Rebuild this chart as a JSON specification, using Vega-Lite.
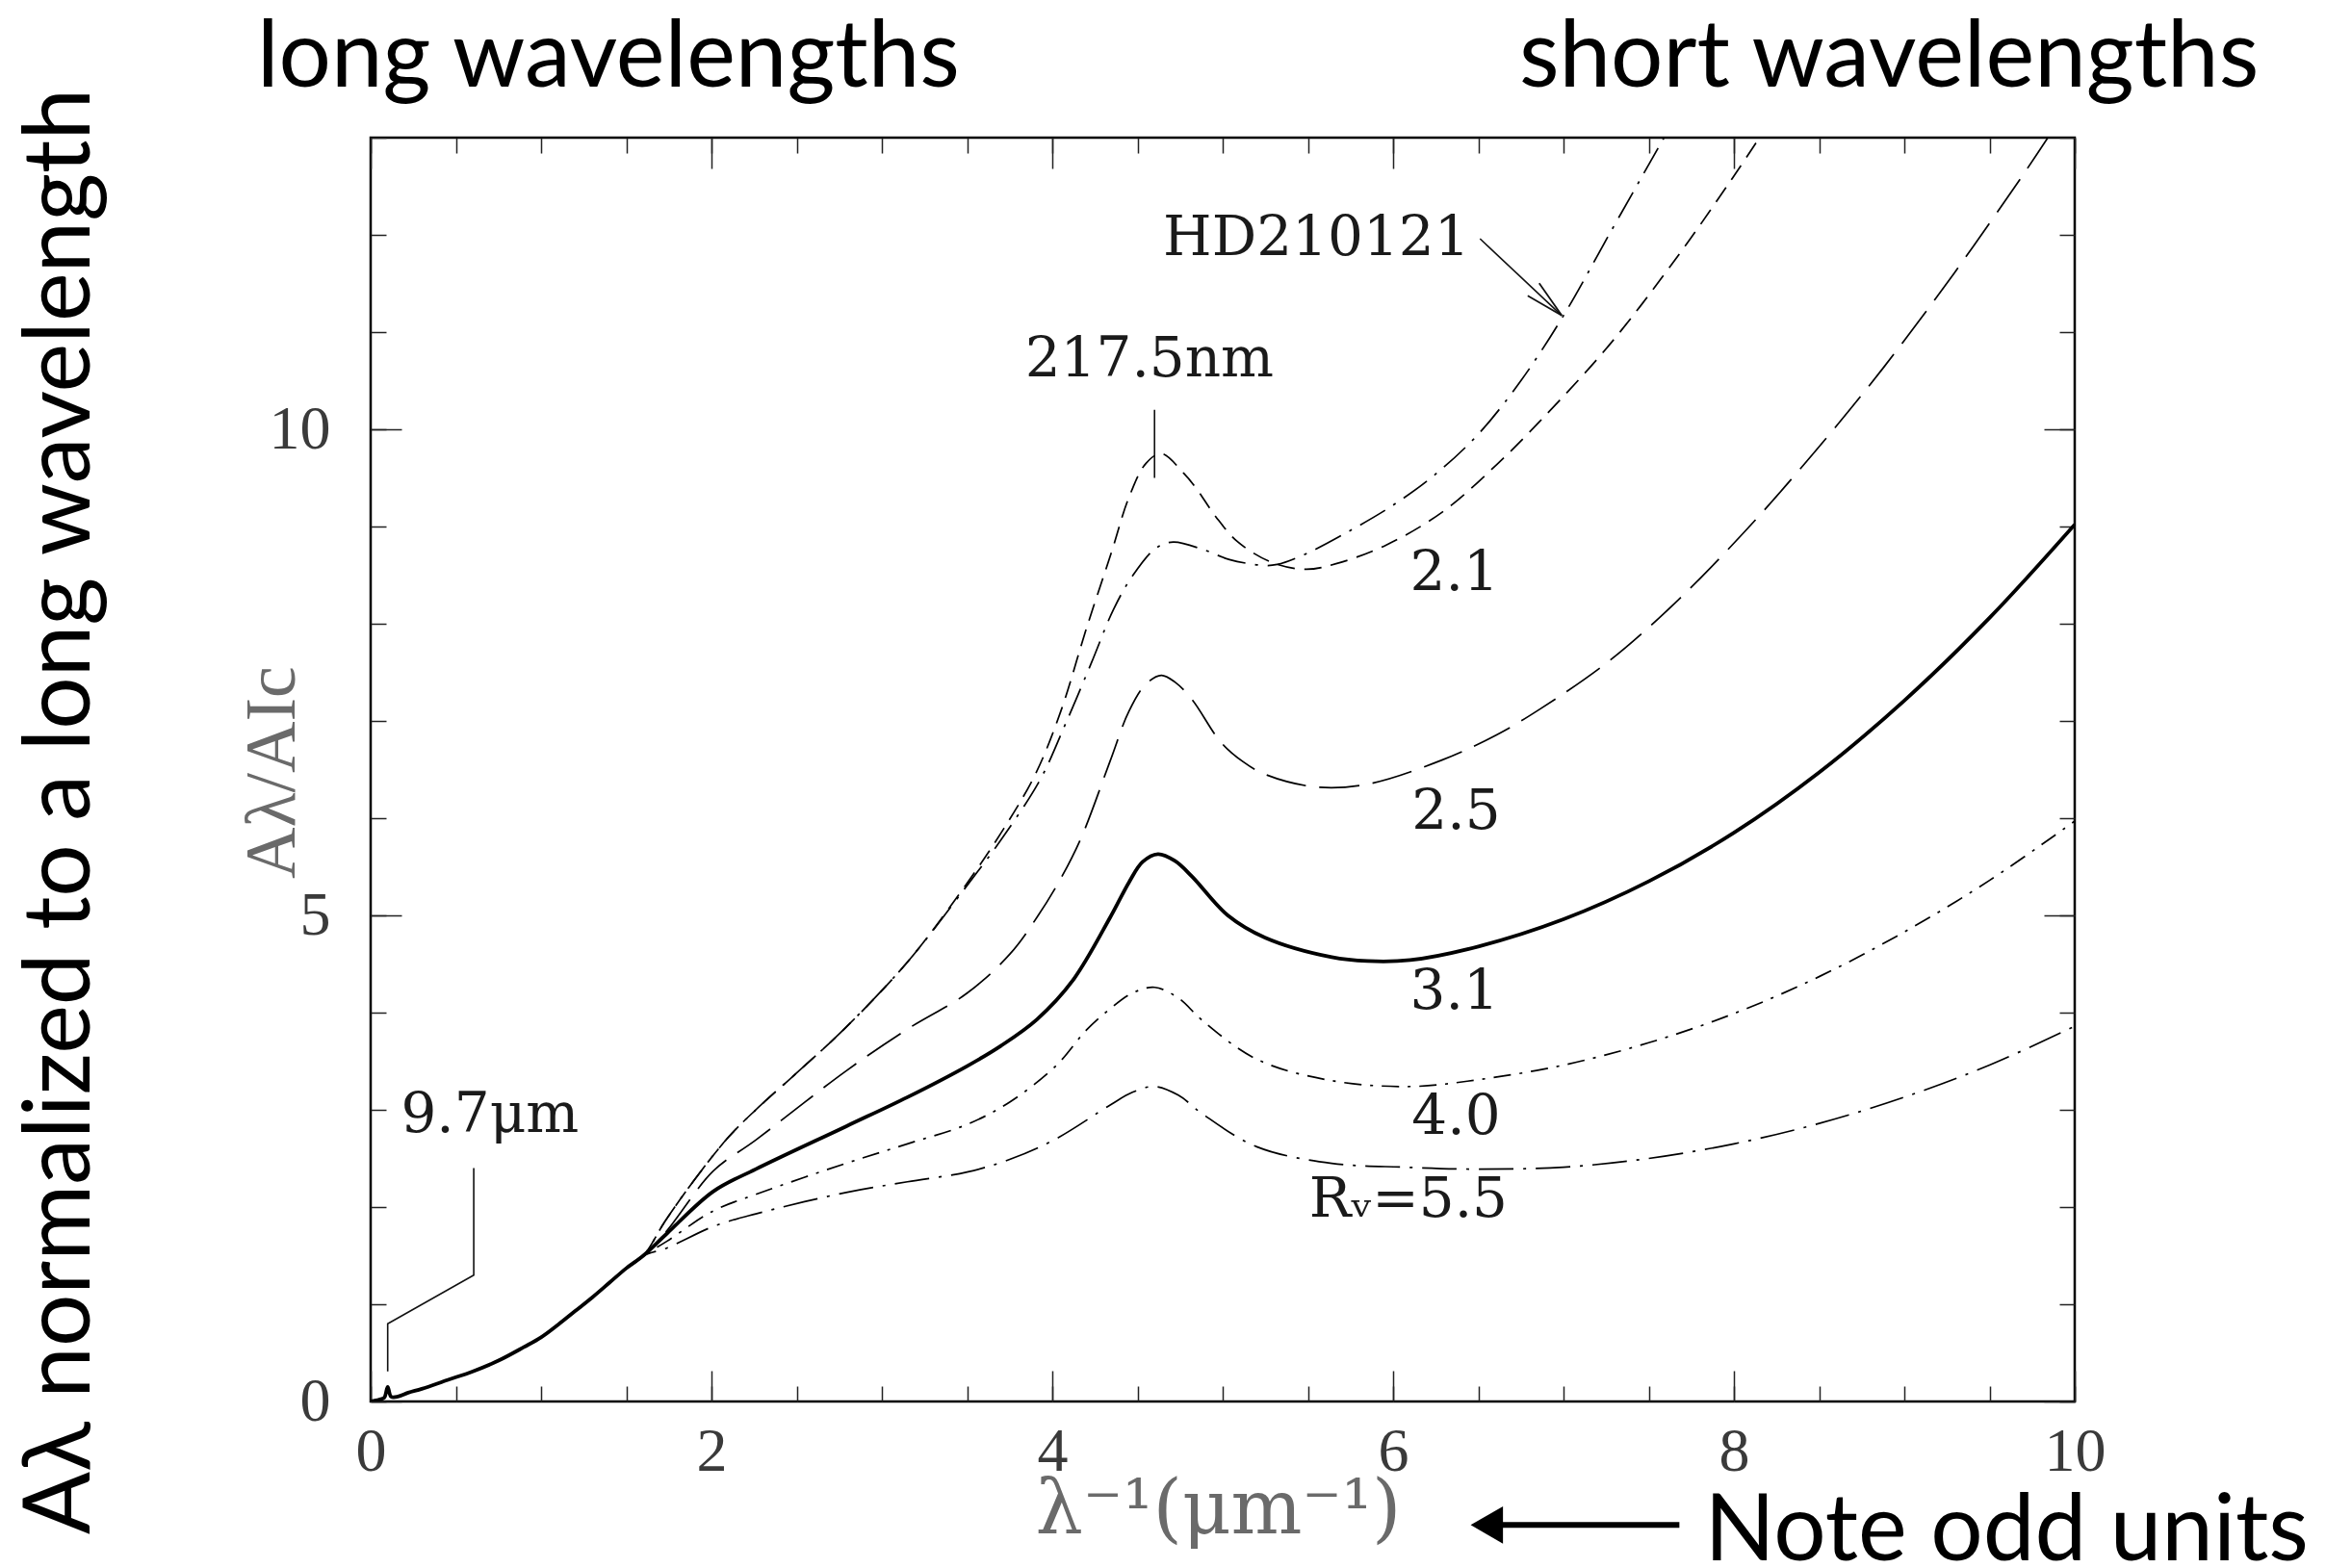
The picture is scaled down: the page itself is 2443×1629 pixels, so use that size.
{
  "$schema": "https://vega.github.io/schema/vega-lite/v6.json",
  "autosize": {"type": "none"},
  "width": 1770,
  "height": 1313,
  "padding": {"left": 385, "top": 143, "right": 288, "bottom": 173},
  "background": "white",
  "config": {
    "view": {"stroke": "#000", "strokeWidth": 2.5},
    "axis": {"domain": false, "grid": false, "labelFlush": false, "labelOverlap": false, "tickColor": "#222", "tickWidth": 1.5}
  },
  "datasets": {
    "curves": [
      {"c": "3.1", "x": 0, "y": 0}, {"c": "3.1", "x": 0.05, "y": 0.02}, {"c": "3.1", "x": 0.08, "y": 0.04}, {"c": "3.1", "x": 0.1, "y": 0.15}, {"c": "3.1", "x": 0.12, "y": 0.05}, {"c": "3.1", "x": 0.16, "y": 0.05}, {"c": "3.1", "x": 0.22, "y": 0.09}, {"c": "3.1", "x": 0.3, "y": 0.13}, {"c": "3.1", "x": 0.45, "y": 0.22}, {"c": "3.1", "x": 0.6, "y": 0.31}, {"c": "3.1", "x": 0.75, "y": 0.42}, {"c": "3.1", "x": 0.9, "y": 0.56}, {"c": "3.1", "x": 1.0, "y": 0.66}, {"c": "3.1", "x": 1.1, "y": 0.79}, {"c": "3.1", "x": 1.2, "y": 0.93}, {"c": "3.1", "x": 1.3, "y": 1.07}, {"c": "3.1", "x": 1.4, "y": 1.22}, {"c": "3.1", "x": 1.5, "y": 1.37}, {"c": "3.1", "x": 1.6, "y": 1.5},
      {"c": "3.1", "x": 1.74, "y": 1.73}, {"c": "3.1", "x": 2.01, "y": 2.16}, {"c": "3.1", "x": 2.26, "y": 2.39}, {"c": "3.1", "x": 2.79, "y": 2.83}, {"c": "3.1", "x": 3.15, "y": 3.13}, {"c": "3.1", "x": 3.5, "y": 3.45}, {"c": "3.1", "x": 3.7, "y": 3.66}, {"c": "3.1", "x": 3.91, "y": 3.93}, {"c": "3.1", "x": 4.12, "y": 4.33}, {"c": "3.1", "x": 4.34, "y": 4.98}, {"c": "3.1", "x": 4.45, "y": 5.34}, {"c": "3.1", "x": 4.53, "y": 5.55}, {"c": "3.1", "x": 4.62, "y": 5.63}, {"c": "3.1", "x": 4.72, "y": 5.56}, {"c": "3.1", "x": 4.82, "y": 5.4}, {"c": "3.1", "x": 5.03, "y": 5.0}, {"c": "3.1", "x": 5.25, "y": 4.77}, {"c": "3.1", "x": 5.64, "y": 4.57}, {"c": "3.1", "x": 5.85, "y": 4.53}, {"c": "3.1", "x": 6.1, "y": 4.54}, {"c": "3.1", "x": 6.5, "y": 4.68}, {"c": "3.1", "x": 7.0, "y": 4.96}, {"c": "3.1", "x": 7.5, "y": 5.35}, {"c": "3.1", "x": 8.0, "y": 5.85}, {"c": "3.1", "x": 8.5, "y": 6.47}, {"c": "3.1", "x": 9.0, "y": 7.21}, {"c": "3.1", "x": 9.5, "y": 8.06}, {"c": "3.1", "x": 10, "y": 9.02},

      {"c": "HD210121", "x": 1.5, "y": 1.37}, {"c": "HD210121", "x": 1.6, "y": 1.5}, {"c": "HD210121", "x": 1.73, "y": 1.86}, {"c": "HD210121", "x": 1.9, "y": 2.28}, {"c": "HD210121", "x": 2.1, "y": 2.72}, {"c": "HD210121", "x": 2.26, "y": 3.0}, {"c": "HD210121", "x": 2.5, "y": 3.38}, {"c": "HD210121", "x": 2.79, "y": 3.85}, {"c": "HD210121", "x": 3.15, "y": 4.52}, {"c": "HD210121", "x": 3.475, "y": 5.25}, {"c": "HD210121", "x": 3.7, "y": 5.78}, {"c": "HD210121", "x": 3.93, "y": 6.4}, {"c": "HD210121", "x": 4.08, "y": 6.98}, {"c": "HD210121", "x": 4.23, "y": 7.6}, {"c": "HD210121", "x": 4.36, "y": 8.15}, {"c": "HD210121", "x": 4.47, "y": 8.49}, {"c": "HD210121", "x": 4.61, "y": 8.78}, {"c": "HD210121", "x": 4.71, "y": 8.84}, {"c": "HD210121", "x": 4.89, "y": 8.76}, {"c": "HD210121", "x": 5.04, "y": 8.66}, {"c": "HD210121", "x": 5.24, "y": 8.6}, {"c": "HD210121", "x": 5.32, "y": 8.61}, {"c": "HD210121", "x": 5.49, "y": 8.72}, {"c": "HD210121", "x": 5.74, "y": 8.95}, {"c": "HD210121", "x": 6.0, "y": 9.22}, {"c": "HD210121", "x": 6.25, "y": 9.54}, {"c": "HD210121", "x": 6.5, "y": 9.95}, {"c": "HD210121", "x": 6.75, "y": 10.5}, {"c": "HD210121", "x": 7.0, "y": 11.17}, {"c": "HD210121", "x": 7.27, "y": 12.01}, {"c": "HD210121", "x": 7.59, "y": 13.0},

      {"c": "2.1", "x": 1.5, "y": 1.37}, {"c": "2.1", "x": 1.6, "y": 1.5}, {"c": "2.1", "x": 1.73, "y": 1.86}, {"c": "2.1", "x": 1.9, "y": 2.28}, {"c": "2.1", "x": 2.1, "y": 2.72}, {"c": "2.1", "x": 2.26, "y": 3.0}, {"c": "2.1", "x": 2.5, "y": 3.38}, {"c": "2.1", "x": 2.79, "y": 3.85}, {"c": "2.1", "x": 3.15, "y": 4.52}, {"c": "2.1", "x": 3.475, "y": 5.27}, {"c": "2.1", "x": 3.7, "y": 5.85}, {"c": "2.1", "x": 3.9, "y": 6.45}, {"c": "2.1", "x": 4.05, "y": 7.1}, {"c": "2.1", "x": 4.2, "y": 7.95}, {"c": "2.1", "x": 4.35, "y": 8.75}, {"c": "2.1", "x": 4.45, "y": 9.3}, {"c": "2.1", "x": 4.55, "y": 9.65}, {"c": "2.1", "x": 4.64, "y": 9.75}, {"c": "2.1", "x": 4.77, "y": 9.55}, {"c": "2.1", "x": 4.85, "y": 9.38}, {"c": "2.1", "x": 4.96, "y": 9.1}, {"c": "2.1", "x": 5.09, "y": 8.84}, {"c": "2.1", "x": 5.29, "y": 8.63}, {"c": "2.1", "x": 5.49, "y": 8.56}, {"c": "2.1", "x": 5.67, "y": 8.62}, {"c": "2.1", "x": 5.96, "y": 8.81}, {"c": "2.1", "x": 6.29, "y": 9.15}, {"c": "2.1", "x": 6.61, "y": 9.64}, {"c": "2.1", "x": 6.86, "y": 10.08}, {"c": "2.1", "x": 7.27, "y": 10.87}, {"c": "2.1", "x": 7.67, "y": 11.78}, {"c": "2.1", "x": 7.99, "y": 12.58}, {"c": "2.1", "x": 8.15, "y": 13.0},

      {"c": "2.5", "x": 1.5, "y": 1.37}, {"c": "2.5", "x": 1.6, "y": 1.5}, {"c": "2.5", "x": 1.74, "y": 1.76}, {"c": "2.5", "x": 2.01, "y": 2.37}, {"c": "2.5", "x": 2.26, "y": 2.69}, {"c": "2.5", "x": 2.79, "y": 3.4}, {"c": "2.5", "x": 3.15, "y": 3.83}, {"c": "2.5", "x": 3.5, "y": 4.2}, {"c": "2.5", "x": 3.75, "y": 4.6}, {"c": "2.5", "x": 3.91, "y": 4.98}, {"c": "2.5", "x": 4.05, "y": 5.38}, {"c": "2.5", "x": 4.17, "y": 5.8}, {"c": "2.5", "x": 4.34, "y": 6.59}, {"c": "2.5", "x": 4.45, "y": 7.1}, {"c": "2.5", "x": 4.55, "y": 7.38}, {"c": "2.5", "x": 4.64, "y": 7.47}, {"c": "2.5", "x": 4.72, "y": 7.4}, {"c": "2.5", "x": 4.82, "y": 7.22}, {"c": "2.5", "x": 4.99, "y": 6.78}, {"c": "2.5", "x": 5.12, "y": 6.58}, {"c": "2.5", "x": 5.25, "y": 6.45}, {"c": "2.5", "x": 5.55, "y": 6.32}, {"c": "2.5", "x": 5.85, "y": 6.35}, {"c": "2.5", "x": 6.29, "y": 6.6}, {"c": "2.5", "x": 6.61, "y": 6.86}, {"c": "2.5", "x": 6.86, "y": 7.12}, {"c": "2.5", "x": 7.27, "y": 7.62}, {"c": "2.5", "x": 7.67, "y": 8.24}, {"c": "2.5", "x": 8.07, "y": 8.96}, {"c": "2.5", "x": 8.48, "y": 9.78}, {"c": "2.5", "x": 8.88, "y": 10.64}, {"c": "2.5", "x": 9.29, "y": 11.6}, {"c": "2.5", "x": 9.69, "y": 12.6}, {"c": "2.5", "x": 9.85, "y": 13.02},

      {"c": "4.0", "x": 1.5, "y": 1.37}, {"c": "4.0", "x": 1.6, "y": 1.5}, {"c": "4.0", "x": 1.74, "y": 1.65}, {"c": "4.0", "x": 2.01, "y": 1.96}, {"c": "4.0", "x": 2.26, "y": 2.13}, {"c": "4.0", "x": 2.79, "y": 2.45}, {"c": "4.0", "x": 3.15, "y": 2.65}, {"c": "4.0", "x": 3.5, "y": 2.85}, {"c": "4.0", "x": 3.75, "y": 3.08}, {"c": "4.0", "x": 4.02, "y": 3.45}, {"c": "4.0", "x": 4.2, "y": 3.82}, {"c": "4.0", "x": 4.34, "y": 4.04}, {"c": "4.0", "x": 4.47, "y": 4.2}, {"c": "4.0", "x": 4.6, "y": 4.26}, {"c": "4.0", "x": 4.74, "y": 4.15}, {"c": "4.0", "x": 4.88, "y": 3.92}, {"c": "4.0", "x": 5.2, "y": 3.52}, {"c": "4.0", "x": 5.64, "y": 3.3}, {"c": "4.0", "x": 6.1, "y": 3.24}, {"c": "4.0", "x": 6.5, "y": 3.31}, {"c": "4.0", "x": 7.0, "y": 3.46}, {"c": "4.0", "x": 7.5, "y": 3.69}, {"c": "4.0", "x": 8.0, "y": 3.99}, {"c": "4.0", "x": 8.5, "y": 4.37}, {"c": "4.0", "x": 9.0, "y": 4.83}, {"c": "4.0", "x": 9.5, "y": 5.36}, {"c": "4.0", "x": 10, "y": 5.97},

      {"c": "5.5", "x": 1.5, "y": 1.37}, {"c": "5.5", "x": 1.6, "y": 1.5}, {"c": "5.5", "x": 1.74, "y": 1.58}, {"c": "5.5", "x": 2.01, "y": 1.8}, {"c": "5.5", "x": 2.26, "y": 1.93}, {"c": "5.5", "x": 2.79, "y": 2.15}, {"c": "5.5", "x": 3.15, "y": 2.26}, {"c": "5.5", "x": 3.5, "y": 2.36}, {"c": "5.5", "x": 3.75, "y": 2.49}, {"c": "5.5", "x": 4.02, "y": 2.7}, {"c": "5.5", "x": 4.34, "y": 3.05}, {"c": "5.5", "x": 4.47, "y": 3.18}, {"c": "5.5", "x": 4.6, "y": 3.24}, {"c": "5.5", "x": 4.74, "y": 3.15}, {"c": "5.5", "x": 4.88, "y": 2.96}, {"c": "5.5", "x": 5.2, "y": 2.62}, {"c": "5.5", "x": 5.64, "y": 2.45}, {"c": "5.5", "x": 6.07, "y": 2.41}, {"c": "5.5", "x": 6.5, "y": 2.39}, {"c": "5.5", "x": 7.0, "y": 2.41}, {"c": "5.5", "x": 7.5, "y": 2.5}, {"c": "5.5", "x": 8.0, "y": 2.65}, {"c": "5.5", "x": 8.5, "y": 2.86}, {"c": "5.5", "x": 9.0, "y": 3.13}, {"c": "5.5", "x": 9.5, "y": 3.46}, {"c": "5.5", "x": 10, "y": 3.86}
    ],
    "leaders": [
      {"g": "217.5nm", "o": 1, "x": 4.6, "y": 9.5}, {"g": "217.5nm", "o": 2, "x": 4.6, "y": 10.2},
      {"g": "9.7um", "o": 1, "x": 0.1, "y": 0.31}, {"g": "9.7um", "o": 2, "x": 0.1, "y": 0.8}, {"g": "9.7um", "o": 3, "x": 0.605, "y": 1.3}, {"g": "9.7um", "o": 4, "x": 0.605, "y": 2.4},
      {"g": "HD210121", "o": 1, "x": 6.51, "y": 11.96}, {"g": "HD210121", "o": 2, "x": 6.99, "y": 11.17}
    ],
    "serifLabels": [
      {"t": "HD210121", "x": 5.55, "y": 11.96},
      {"t": "217.5nm", "x": 4.57, "y": 10.71},
      {"t": "2.1", "x": 6.36, "y": 8.51},
      {"t": "2.5", "x": 6.37, "y": 6.06},
      {"t": "3.1", "x": 6.36, "y": 4.21},
      {"t": "4.0", "x": 6.37, "y": 2.92},
      {"t": "Rᵥ=5.5", "x": 6.09, "y": 2.07},
      {"t": "9.7μm", "x": 0.7, "y": 2.94}
    ],
    "arrowTip": [{"x": 6.99, "y": 11.17}],
    "sansLabels": [
      {"t": "long wavelengths", "x": 1.395, "y": 13.52},
      {"t": "short wavelengths", "x": 8.91, "y": 13.52},
      {"t": "Note odd units", "x": 9.6, "y": -1.63}
    ],
    "sideTitle": [{"t": "Aλ normalized to a long wavelength", "x": -1.65, "y": 6.07}],
    "noteArrow": [{"o": 1, "x": 7.68, "y": -1.27}, {"o": 2, "x": 6.6, "y": -1.27}],
    "noteHead": [{"x": 6.55, "y": -1.27}]
  },
  "resolve": {"axis": {"x": "independent", "y": "independent"}},
  "layer": [
    {
      "data": {"name": "curves"},
      "transform": [{"filter": "datum.c !== '3.1'"}],
      "mark": {"type": "line", "interpolate": "catmull-rom", "clip": true, "color": "#000", "strokeWidth": 1.7},
      "encoding": {
        "x": {"field": "x", "type": "quantitative", "scale": {"domain": [0, 10], "nice": false, "zero": false},
          "axis": {"orient": "bottom", "values": [0, 0.5, 1, 1.5, 2, 2.5, 3, 3.5, 4, 4.5, 5, 5.5, 6, 6.5, 7, 7.5, 8, 8.5, 9, 9.5, 10], "tickSize": -16, "labels": false, "title": null}},
        "y": {"field": "y", "type": "quantitative", "scale": {"domain": [0, 13], "nice": false, "zero": false},
          "axis": {"orient": "left", "values": [0, 1, 2, 3, 4, 5, 6, 7, 8, 9, 10, 11, 12, 13], "tickSize": -16, "labels": false, "title": null}},
        "detail": {"field": "c", "type": "nominal"},
        "strokeDash": {"field": "c", "type": "nominal", "legend": null,
          "scale": {"domain": ["HD210121", "2.1", "2.5", "4.0", "5.5"], "range": [[30, 10, 3, 10], [18, 10], [42, 14], [18, 9, 3, 9], [36, 10, 3, 10]]}}
      }
    },
    {
      "data": {"name": "curves"},
      "transform": [{"filter": "datum.c === '3.1'"}],
      "mark": {"type": "line", "interpolate": "catmull-rom", "clip": true, "color": "#000", "strokeWidth": 3.8},
      "encoding": {
        "x": {"field": "x", "type": "quantitative", "scale": {"domain": [0, 10], "nice": false, "zero": false}, "axis": null},
        "y": {"field": "y", "type": "quantitative", "scale": {"domain": [0, 13], "nice": false, "zero": false}, "axis": null}
      }
    },
    {
      "data": {"name": "leaders"},
      "mark": {"type": "line", "color": "#111", "strokeWidth": 1.6},
      "encoding": {
        "x": {"field": "x", "type": "quantitative", "scale": {"domain": [0, 10], "nice": false, "zero": false},
          "axis": {"orient": "bottom", "values": [0, 2, 4, 6, 8, 10], "tickSize": -32, "labels": true, "labelFont": "Liberation Serif", "labelFontSize": 64, "labelColor": "#3a3a3a", "labelPadding": 52, "labelBaseline": "top",
            "title": "λ⁻¹(μm⁻¹)", "titleFont": "DejaVu Serif", "titleFontSize": 78, "titleFontWeight": "normal", "titleColor": "#6a6a6a", "titleX": 880, "titleY": 136, "titleBaseline": "alphabetic", "titleAlign": "center"}},
        "y": {"field": "y", "type": "quantitative", "scale": {"domain": [0, 13], "nice": false, "zero": false},
          "axis": {"orient": "left", "values": [0, 5, 10], "tickSize": -32, "labels": true, "labelFont": "Liberation Serif", "labelFontSize": 64, "labelColor": "#3a3a3a", "labelPadding": 74, "labelBaseline": "middle",
            "title": "Aλ/AIc", "titleFont": "Liberation Serif", "titleFontSize": 74, "titleFontWeight": "normal", "titleColor": "#6a6a6a", "titleX": -80, "titleY": 659, "titleAngle": -90, "titleBaseline": "alphabetic", "titleAlign": "center"}},
        "detail": {"field": "g", "type": "nominal"},
        "order": {"field": "o", "type": "quantitative"}
      }
    },
    {
      "data": {"name": "serifLabels"},
      "mark": {"type": "text", "font": "DejaVu Serif", "fontSize": 58, "color": "#1a1a1a", "align": "center", "baseline": "middle"},
      "encoding": {
        "x": {"field": "x", "type": "quantitative", "scale": {"domain": [0, 10], "nice": false, "zero": false},
          "axis": {"orient": "top", "values": [0, 0.5, 1, 1.5, 2, 2.5, 3, 3.5, 4, 4.5, 5, 5.5, 6, 6.5, 7, 7.5, 8, 8.5, 9, 9.5, 10], "tickSize": -16, "labels": false, "title": null}},
        "y": {"field": "y", "type": "quantitative", "scale": {"domain": [0, 13], "nice": false, "zero": false},
          "axis": {"orient": "right", "values": [0, 1, 2, 3, 4, 5, 6, 7, 8, 9, 10, 11, 12, 13], "tickSize": -16, "labels": false, "title": null}},
        "text": {"field": "t", "type": "nominal"}
      }
    },
    {
      "data": {"name": "arrowTip"},
      "mark": {"type": "point", "shape": "M -1 -0.22 L 0 0 L -1 0.22", "size": 6400, "angle": 42.6, "filled": false, "stroke": "#111", "strokeWidth": 1.8, "opacity": 1},
      "encoding": {
        "x": {"field": "x", "type": "quantitative", "scale": {"domain": [0, 10], "nice": false, "zero": false},
          "axis": {"orient": "top", "values": [0, 2, 4, 6, 8, 10], "tickSize": -32, "labels": false, "title": null}},
        "y": {"field": "y", "type": "quantitative", "scale": {"domain": [0, 13], "nice": false, "zero": false},
          "axis": {"orient": "right", "values": [0, 5, 10], "tickSize": -32, "labels": false, "title": null}}
      }
    },
    {
      "data": {"name": "sansLabels"},
      "mark": {"type": "text", "font": "Lato", "fontSize": 96, "color": "#000", "align": "center", "baseline": "alphabetic"},
      "encoding": {
        "x": {"field": "x", "type": "quantitative", "scale": {"domain": [0, 10], "nice": false, "zero": false}, "axis": null},
        "y": {"field": "y", "type": "quantitative", "scale": {"domain": [0, 13], "nice": false, "zero": false}, "axis": null},
        "text": {"field": "t", "type": "nominal"}
      }
    },
    {
      "data": {"name": "sideTitle"},
      "mark": {"type": "text", "font": "Lato", "fontSize": 96, "color": "#000", "align": "center", "baseline": "alphabetic", "angle": 270},
      "encoding": {
        "x": {"field": "x", "type": "quantitative", "scale": {"domain": [0, 10], "nice": false, "zero": false}, "axis": null},
        "y": {"field": "y", "type": "quantitative", "scale": {"domain": [0, 13], "nice": false, "zero": false}, "axis": null},
        "text": {"field": "t", "type": "nominal"}
      }
    },
    {
      "data": {"name": "noteArrow"},
      "mark": {"type": "line", "color": "#000", "strokeWidth": 6},
      "encoding": {
        "x": {"field": "x", "type": "quantitative", "scale": {"domain": [0, 10], "nice": false, "zero": false}, "axis": null},
        "y": {"field": "y", "type": "quantitative", "scale": {"domain": [0, 13], "nice": false, "zero": false}, "axis": null},
        "order": {"field": "o", "type": "quantitative"}
      }
    },
    {
      "data": {"name": "noteHead"},
      "mark": {"type": "point", "shape": "triangle-left", "size": 1500, "filled": true, "color": "#000", "opacity": 1},
      "encoding": {
        "x": {"field": "x", "type": "quantitative", "scale": {"domain": [0, 10], "nice": false, "zero": false}, "axis": null},
        "y": {"field": "y", "type": "quantitative", "scale": {"domain": [0, 13], "nice": false, "zero": false}, "axis": null}
      }
    }
  ]
}
